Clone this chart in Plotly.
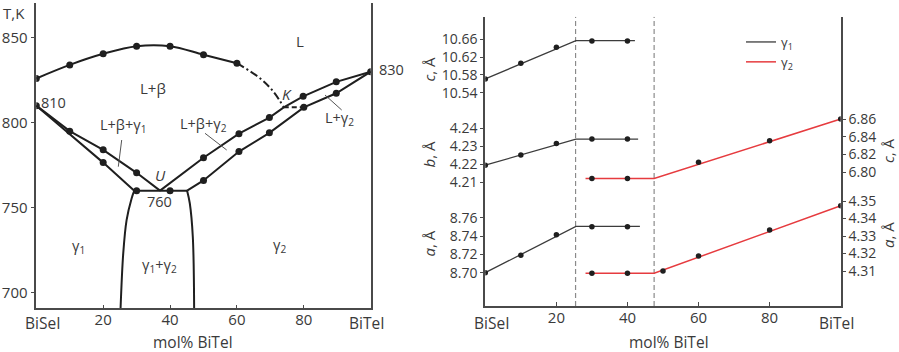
import plotly.graph_objects as go

W, H = 899, 352
FONT = "Open Sans"
TXT = "#3a3a3a"
INK = "#1f1f1f"
AX = "#4a4a4a"
G1 = "#3c3c3c"
G2 = "#e63b3f"

# ---------------- BiSeI–BiTeI phase diagram (T, K vs mol% BiTeI) ----------------
liq_x = [0, 10, 20, 30, 40, 50, 60]
liq_T = [826, 834, 840.5, 845, 845, 840, 835]
liq_ext_x = [60, 67, 71, 74]
liq_ext_T = [835, 826, 818, 809]

k_tie_x = [74, 80]
k_tie_T = [809, 809]

left_upper_x = [0, 10, 20, 30, 37]
left_upper_T = [810, 795, 784, 770.5, 760]
left_lower_x = [0, 20, 29.3]
left_lower_T = [810, 776.5, 760]

eut_x = [29.3, 45.1]
eut_T = [760, 760]

right_upper_x = [37, 50, 60.6, 69.7, 74, 79.8, 89.7, 100]
right_upper_T = [760, 779.4, 793.5, 803, 809, 815.5, 824, 830]
right_lower_x = [45.1, 50, 60.6, 69.7, 80, 89.7, 100]
right_lower_T = [760, 766, 783, 794, 809, 817.3, 830]

solvus_l_x = [29.3, 28.5, 27.0, 26.0, 25.2]
solvus_l_T = [760, 755.4, 742.7, 723.1, 690.8]
solvus_r_x = [45.1, 45.9, 46.8, 47.2]
solvus_r_T = [760, 752.6, 732.9, 690.8]

# measured compositions (dots)
pts_x = [0, 10, 20, 30, 40, 50, 60,
         0, 10, 20, 30, 20,
         30, 40,
         50, 60.6, 69.7, 79.8, 89.7, 100,
         50, 60.6, 69.7, 80, 89.7]
pts_T = [826, 834, 840.5, 845, 845, 840, 835,
         810, 795, 784, 770.5, 776.5,
         760, 760,
         779.4, 793.5, 803, 815.5, 824, 830,
         766, 783, 794, 809, 817.3]

T_ticks = [700, 750, 800, 850]
comp_ticks = [20, 40, 60, 80]

# ---------------- lattice parameters (Å vs mol% BiTeI) ----------------
boundaries = [25.4, 47.5]

g1_x = [0, 10, 20, 30, 40]
g1_c = [10.571, 10.606, 10.642, 10.656, 10.656]
g1_b = [4.2195, 4.2252, 4.2315, 4.234, 4.234]
g1_a = [8.700, 8.719, 8.7415, 8.750, 8.750]

g1_c_line_x = [0, 25.5, 42.1]
g1_c_line = [10.571, 10.657, 10.657]
g1_b_line_x = [0, 25.5, 43.0]
g1_b_line = [4.2195, 4.234, 4.234]
g1_a_line_x = [0, 25.5, 43.5]
g1_a_line = [8.700, 8.7505, 8.7505]

g2_c_x = [30, 40, 60, 80, 100]
g2_c = [6.793, 6.793, 6.8112, 6.8355, 6.86]
g2_a_x = [30, 40, 50, 60, 80, 100]
g2_a = [4.3087, 4.3087, 4.310, 4.3186, 4.3334, 4.3473]

g2_line_x = [28.2, 47.5, 100]
g2_c_line = [6.793, 6.793, 6.86]
g2_a_line = [4.3087, 4.3087, 4.3473]

c1_ticks = [10.54, 10.58, 10.62, 10.66]
b1_ticks = [4.21, 4.22, 4.23, 4.24]
a1_ticks = [8.70, 8.72, 8.74, 8.76]
c2_ticks = [6.80, 6.82, 6.84, 6.86]
a2_ticks = [4.31, 4.32, 4.33, 4.34, 4.35]


def fx(p):
    return p / W


def fy(p):
    return 1 - p / H


# right panel frame (pixels)
R_TOP, R_BOT = 16.7, 306.0


def stacked_range(v_hi, p_hi, v_lo, p_lo):
    """Axis range over the full panel height so that v_hi/v_lo sit at rows p_hi/p_lo."""
    s = (v_hi - v_lo) / (p_lo - p_hi)
    return [v_lo - (R_BOT - p_lo) * s, v_hi + (p_hi - R_TOP) * s]


fig = go.Figure()


def add_line(x, y, xa="x", ya="y", color=INK, width=2.0, dash=None, shape="linear",
             name=None, legend=False):
    fig.add_trace(go.Scatter(x=x, y=y, xaxis=xa, yaxis=ya, mode="lines",
                             line=dict(color=color, width=width, dash=dash, shape=shape),
                             name=name, showlegend=legend, hoverinfo="skip"))


def add_dots(x, y, xa="x", ya="y", size=7):
    fig.add_trace(go.Scatter(x=x, y=y, xaxis=xa, yaxis=ya, mode="markers",
                             marker=dict(color=INK, size=size), showlegend=False,
                             hoverinfo="skip"))


# phase diagram
add_line(liq_x, liq_T, shape="spline")
add_line(liq_ext_x, liq_ext_T, shape="spline", dash="8px,3px,2px,3px")
add_line(k_tie_x, k_tie_T, dash="5px,3px")
add_line(left_upper_x, left_upper_T)
add_line(left_lower_x, left_lower_T)
add_line(eut_x, eut_T)
add_line(right_upper_x, right_upper_T)
add_line(right_lower_x, right_lower_T)
add_line(solvus_l_x, solvus_l_T, shape="spline")
add_line(solvus_r_x, solvus_r_T, shape="spline")
add_dots(pts_x, pts_T)

# lattice parameters
for bx in boundaries:
    add_line([bx, bx], [0, 1], xa="x2", ya="y2", color="#8a8a8a", width=1.2, dash="5px,3px")

add_line(g1_c_line_x, g1_c_line, xa="x2", ya="y3", color=G1, width=1.3,
         name="γ<sub>1</sub>", legend=True)
add_line(g1_b_line_x, g1_b_line, xa="x2", ya="y4", color=G1, width=1.3)
add_line(g1_a_line_x, g1_a_line, xa="x2", ya="y5", color=G1, width=1.3)
add_line(g2_line_x, g2_c_line, xa="x2", ya="y6", color=G2, width=1.5,
         name="γ<sub>2</sub>", legend=True)
add_line(g2_line_x, g2_a_line, xa="x2", ya="y7", color=G2, width=1.5)

add_dots(g1_x, g1_c, xa="x2", ya="y3", size=5.5)
add_dots(g1_x, g1_b, xa="x2", ya="y4", size=5.5)
add_dots(g1_x, g1_a, xa="x2", ya="y5", size=5.5)
add_dots(g2_c_x, g2_c, xa="x2", ya="y6", size=5.5)
add_dots(g2_a_x, g2_a, xa="x2", ya="y7", size=5.5)

tickfont_l = dict(family=FONT, size=15, color=TXT)
tickfont_r = dict(family=FONT, size=14, color=TXT)

common_x = dict(range=[0, 100], showgrid=False, zeroline=False, showline=True,
                linecolor=AX, linewidth=1.5, ticks="inside", ticklen=4, tickcolor=AX,
                tickvals=comp_ticks, fixedrange=True, ticklabelstandoff=-3)

stack_axis = dict(showgrid=False, zeroline=False, showline=False, ticks="outside",
                  ticklen=4, tickcolor=AX, tickfont=tickfont_r, overlaying="y2",
                  anchor="x2", tickformat=".2f")

fig.update_layout(
    width=W, height=H,
    margin=dict(l=0, r=0, t=0, b=0),
    paper_bgcolor="white", plot_bgcolor="white",
    font=dict(family=FONT, color=TXT),
    xaxis=dict(common_x, domain=[fx(36.3), fx(370.7)], anchor="y",
               tickfont=dict(family=FONT, size=15, color=TXT)),
    yaxis=dict(domain=[fy(308.3), fy(3)], range=[690.8, 870.4], anchor="x",
               showgrid=False, zeroline=False, showline=True, mirror=True,
               linecolor=AX, linewidth=1.5, ticks="outside", ticklen=4, tickcolor=AX,
               tickvals=T_ticks, tickfont=tickfont_l),
    xaxis2=dict(common_x, domain=[fx(485.3), fx(840.7)], anchor="y2",
                tickfont=dict(family=FONT, size=15, color=TXT)),
    yaxis2=dict(domain=[fy(R_BOT), fy(R_TOP)], range=[0, 1], anchor="x2",
                showgrid=False, zeroline=False, showline=True, mirror=True,
                linecolor=AX, linewidth=1.5, showticklabels=False, ticks=""),
    yaxis3=dict(stack_axis, side="left", tickvals=c1_ticks,
                range=stacked_range(10.66, 39.3, 10.54, 92.7)),
    yaxis4=dict(stack_axis, side="left", tickvals=b1_ticks,
                range=stacked_range(4.24, 128.3, 4.21, 182.3)),
    yaxis5=dict(stack_axis, side="left", tickvals=a1_ticks,
                range=stacked_range(8.76, 217.7, 8.70, 272.7)),
    yaxis6=dict(stack_axis, side="right", tickvals=c2_ticks,
                range=stacked_range(6.86, 119.0, 6.80, 172.3)),
    yaxis7=dict(stack_axis, side="right", tickvals=a2_ticks,
                range=stacked_range(4.35, 201.0, 4.31, 271.0)),
    showlegend=True,
    legend=dict(x=fx(741), y=fy(27), xanchor="left", yanchor="top",
                bgcolor="rgba(0,0,0,0)", font=dict(family=FONT, size=13, color=TXT),
                itemwidth=30, tracegroupgap=0),
)

annotations = []


def label(px, py, text, size=15, angle=0, italic=False):
    if italic:
        text = f"<i>{text}</i>"
    annotations.append(dict(x=fx(px), y=fy(py), xref="paper", yref="paper", text=text,
                            showarrow=False, textangle=angle, xanchor="center",
                            yanchor="middle",
                            font=dict(family=FONT, size=size, color=TXT)))


# phase-diagram labels
label(14, 13, "T,K", 15)
label(53, 102, "810", 14.5)
label(391, 69, "830", 14.5)
label(300, 41, "L", 15)
label(152.5, 88, "L+β", 15)
label(123, 126, "L+β+γ<sub>1</sub>", 14.5)
label(203, 124, "L+β+γ<sub>2</sub>", 14.5)
label(339, 118, "L+γ<sub>2</sub>", 14.5)
label(160, 175, "U", 15, italic=True)
label(159, 201.5, "760", 14.5)
label(286.5, 94, "K", 15, italic=True)
label(78, 246, "γ<sub>1</sub>", 14.5)
label(159, 265, "γ<sub>1</sub>+γ<sub>2</sub>", 14.5)
label(279, 245, "γ<sub>2</sub>", 14.5)
label(42, 323, "BiSeI", 15.5)
label(367, 323, "BiTeI", 15.5)
label(193, 342, "mol% BiTeI", 15.5)

# lattice-parameter labels
label(491, 323, "BiSeI", 15.5)
label(837, 323, "BiTeI", 15.5)
label(668.5, 342, "mol% BiTeI", 15.5)
label(428.5, 69, "<i>c</i>, Å", 15, angle=-90)
label(428.5, 155, "<i>b</i>, Å", 15, angle=-90)
label(428.5, 244, "<i>a</i>, Å", 15, angle=-90)
label(888, 151, "<i>c</i>, Å", 15, angle=-90)
label(888, 235, "<i>a</i>, Å", 15, angle=-90)

fig.update_layout(annotations=annotations)

# leader lines from region labels into narrow fields
leaders = [((121.7, 140), (118.3, 166.7)),
           ((205, 133.3), (226.7, 150)),
           ((325, 95), (341.7, 110))]
for (x0, y0), (x1, y1) in leaders:
    fig.add_shape(type="line", xref="paper", yref="paper",
                  x0=fx(x0), y0=fy(y0), x1=fx(x1), y1=fy(y1),
                  line=dict(color="#555555", width=1))

fig.write_html("out.html")
